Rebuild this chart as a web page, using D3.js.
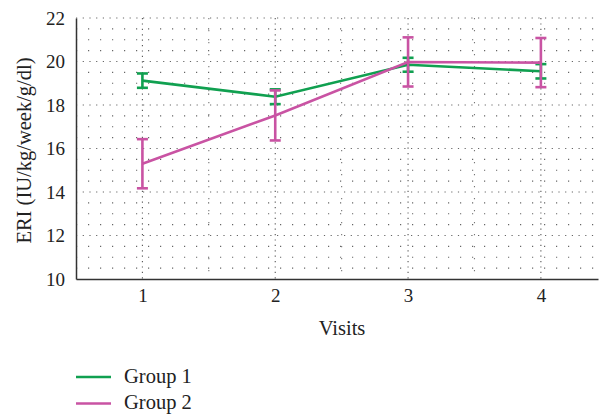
<!DOCTYPE html>
<html>
<head>
<meta charset="utf-8">
<script src="https://cdn.jsdelivr.net/npm/d3@7"></script>
<style>
  body { margin: 0; background: #fff; }
  text { font-family: "Liberation Serif", "DejaVu Serif", serif; fill: #222; }
</style>
</head>
<body>
<div id="chart"></div>
<script>
var visits = [1, 2, 3, 4];
var group1Mean = [19.12, 18.38, 19.85, 19.55];
var group1Err  = [0.33, 0.34, 0.32, 0.33];
var group2Mean = [15.30, 17.52, 19.98, 19.95];
var group2Err  = [1.13, 1.15, 1.13, 1.13];
var seriesNames = ["Group 1", "Group 2"];
var yTicks = [10, 12, 14, 16, 18, 20, 22];

var colors = ["#10a050", "#c953a3"];

var W = 599, H = 415;
var margin = {top: 18, right: 1, bottom: 136, left: 76};
var width = W - margin.left - margin.right,
    height = H - margin.top - margin.bottom;

var svg = d3.select("#chart").append("svg")
  .attr("width", W).attr("height", H);

var g = svg.append("g")
  .attr("transform", "translate(" + margin.left + "," + margin.top + ")");

var x = d3.scaleLinear().domain([0.5, 4.43]).range([0, width]);
var y = d3.scaleLinear().domain([10, 22]).range([height, 0]);

// dotted grid - minor rows every 0.5
var minorY = d3.range(10.5, 22.01, 0.5).filter(function(v){ return v % 2 !== 0; });
g.selectAll(".hminor").data(minorY).enter().append("line")
  .attr("x1", 0).attr("x2", width)
  .attr("y1", function(d){ return y(d); }).attr("y2", function(d){ return y(d); })
  .attr("stroke", "#666").attr("stroke-width", 1.1)
  .attr("stroke-dasharray", "1.2,10.8");
g.selectAll(".hmajor").data(yTicks.slice(1)).enter().append("line")
  .attr("x1", 0).attr("x2", width)
  .attr("y1", function(d){ return y(d); }).attr("y2", function(d){ return y(d); })
  .attr("stroke", "#666").attr("stroke-width", 1.1)
  .attr("stroke-dasharray", "1.2,5.5");

// vertical grid
var halfX = [1.5, 2.5, 3.5];
g.selectAll(".vminor").data(halfX).enter().append("line")
  .attr("x1", function(d){ return x(d); }).attr("x2", function(d){ return x(d); })
  .attr("y1", 0).attr("y2", height)
  .attr("stroke", "#777").attr("stroke-width", 1.1)
  .attr("stroke-dasharray", "1.2,10.8");
g.selectAll(".vmajor").data(visits).enter().append("line")
  .attr("x1", function(d){ return x(d); }).attr("x2", function(d){ return x(d); })
  .attr("y1", 0).attr("y2", height)
  .attr("stroke", "#555").attr("stroke-width", 1.1)
  .attr("stroke-dasharray", "1.2,4.2");

// axes
var yAxis = d3.axisLeft(y).tickValues(yTicks).tickSize(0).tickPadding(11);
var yg = g.append("g").call(yAxis);
yg.select(".domain").attr("stroke", "#333").attr("stroke-width", 1.5);
yg.selectAll("text").style("font-size", "19px").attr("fill", "#222");

var xAxis = d3.axisBottom(x).tickValues(visits).tickSize(0).tickPadding(10).tickFormat(d3.format("d"));
var xg = g.append("g").attr("transform", "translate(0," + height + ")").call(xAxis);
xg.select(".domain").attr("stroke", "#333").attr("stroke-width", 1.5);
xg.selectAll("text").style("font-size", "19px").attr("fill", "#222");

svg.append("text")
  .attr("x", 342).attr("y", 335)
  .attr("text-anchor", "middle")
  .style("font-size", "20.5px")
  .text("Visits");

svg.append("text")
  .attr("transform", "translate(31," + (margin.top + height / 2 + 2) + ") rotate(-90)")
  .attr("text-anchor", "middle")
  .style("font-size", "20.5px")
  .text("ERI (IU/kg/week/g/dl)");

// series
var series = [
  {name: seriesNames[0], mean: group1Mean, err: group1Err, color: colors[0]},
  {name: seriesNames[1], mean: group2Mean, err: group2Err, color: colors[1]}
];

var line = d3.line()
  .x(function(d){ return x(d.v); })
  .y(function(d){ return y(d.m); });

series.forEach(function(s) {
  var pts = visits.map(function(v, i){ return {v: v, m: s.mean[i], e: s.err[i]}; });
  var sg = g.append("g");
  sg.append("path").attr("d", line(pts))
    .attr("fill", "none").attr("stroke", s.color).attr("stroke-width", 2.6);
  var eb = sg.selectAll(".eb").data(pts).enter().append("g");
  eb.append("line")
    .attr("x1", function(d){ return x(d.v); }).attr("x2", function(d){ return x(d.v); })
    .attr("y1", function(d){ return y(d.m - d.e); }).attr("y2", function(d){ return y(d.m + d.e); })
    .attr("stroke", s.color).attr("stroke-width", 2.6);
  [-1, 1].forEach(function(sign) {
    eb.append("line")
      .attr("x1", function(d){ return x(d.v) - 5.5; }).attr("x2", function(d){ return x(d.v) + 5.5; })
      .attr("y1", function(d){ return y(d.m + sign * d.e); }).attr("y2", function(d){ return y(d.m + sign * d.e); })
      .attr("stroke", s.color).attr("stroke-width", 2.6);
  });
});

// legend
var leg = svg.append("g").attr("transform", "translate(76,377)");
series.forEach(function(s, i) {
  var lg = leg.append("g").attr("transform", "translate(0," + (i * 26.5) + ")");
  lg.append("line").attr("x1", 0).attr("x2", 35).attr("y1", 0).attr("y2", 0)
    .attr("stroke", s.color).attr("stroke-width", 2.6);
  lg.append("text").attr("x", 48).attr("y", 5.5)
    .style("font-size", "20.5px").text(s.name);
});
</script>
</body>
</html>
